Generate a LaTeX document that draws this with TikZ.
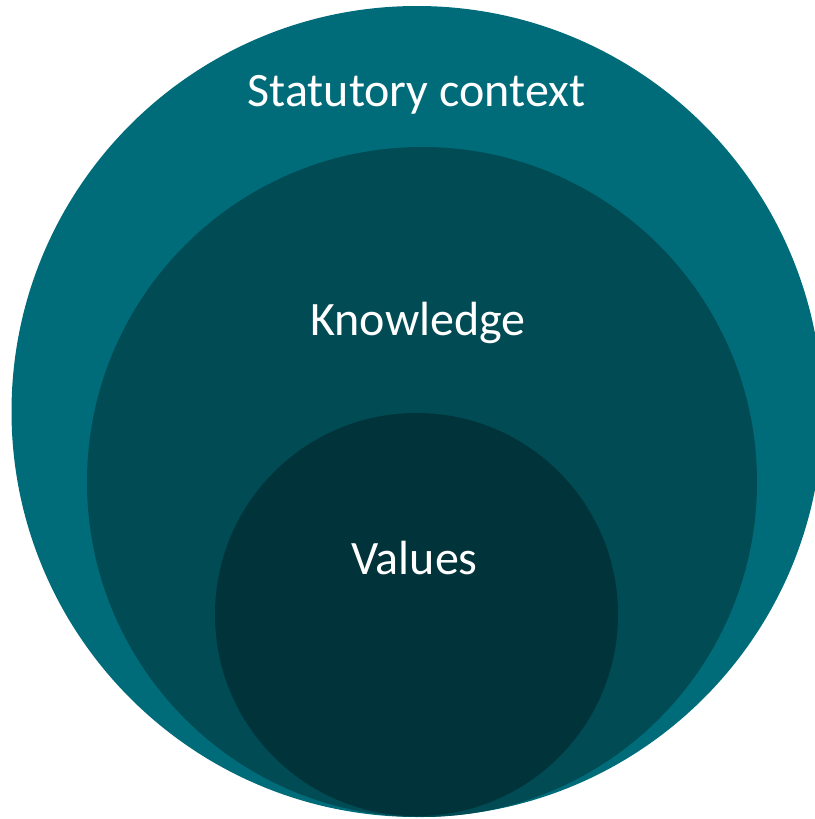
\documentclass[tikz,border=0pt]{standalone}
\usepackage{fontspec}
\setmainfont{Carlito}
\usepackage{xcolor}
\usepackage{tikz}
\usetikzlibrary{positioning}

\definecolor{tealout}{HTML}{006C7A}
\definecolor{tealmid}{HTML}{004B54}
\definecolor{tealin}{HTML}{00333A}

\begin{document}
\begin{tikzpicture}[
  x=0.5pt, y=-0.5pt,
  ring/.style={circle, inner sep=0pt, draw=none},
  lbl/.style={text=white, anchor=base, font=\fontsize{24}{29}\selectfont}
]
\useasboundingbox (0,0) rectangle (814,819);
\node[ring, fill=tealout, minimum size=405.5pt] (ctx) at (417,411.5) {};
\node[ring, fill=tealmid, minimum size=335pt] (know) at (422,482) {};
\node[ring, fill=tealin, minimum size=201.5pt] (val) at (416.5,614.5) {};

\node[lbl] (ctxlbl) at (416.5,106) {Statutory context};
\node[lbl] (knowlbl) at (418,335) {Knowledge};
\node[lbl] (vallbl) at (414.5,574) {Values};
\end{tikzpicture}
\end{document}
